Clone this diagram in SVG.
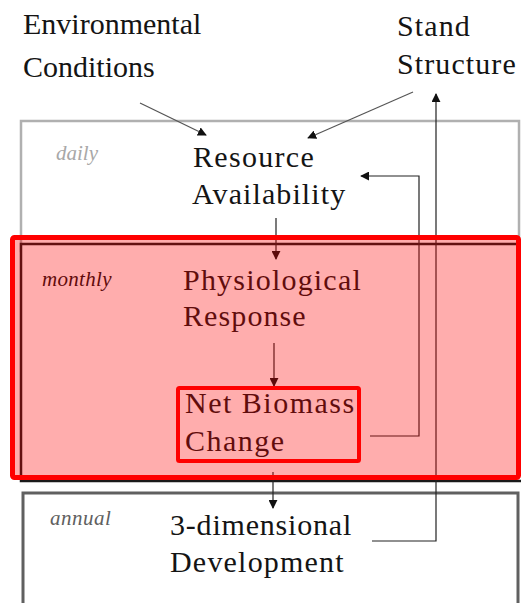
<svg xmlns="http://www.w3.org/2000/svg" width="521" height="603" viewBox="0 0 521 603">
  <defs>
    <marker id="tip" viewBox="0 0 10 10" refX="9" refY="5" markerWidth="9" markerHeight="9" markerUnits="userSpaceOnUse" orient="auto">
      <path d="M0,0 L10,5 L0,10 z" fill="#111"/>
    </marker>
  </defs>

  <rect width="521" height="603" fill="#ffffff"/>

  <!-- time-scale bands -->
  <g id="band-daily">
    <rect x="21" y="121" width="498" height="130" fill="#ffffff" stroke="#b0b0b0" stroke-width="2.5"/>
    <text x="56" y="160" font-family="Liberation Serif" font-size="21" font-style="italic" fill="#a8a8a8">daily</text>
  </g>
  <g id="band-annual">
    <rect x="23" y="493" width="495" height="115" fill="#ffffff" stroke="#606060" stroke-width="3"/>
    <text x="50" y="525" font-family="Liberation Serif" font-size="21" font-style="italic" fill="#606060" letter-spacing="0.5">annual</text>
  </g>
  <g id="band-monthly">
    <rect x="21" y="244" width="510" height="237" fill="#ffffff" stroke="#1a1a1a" stroke-width="2.5"/>
    <text x="42" y="286" font-family="Liberation Serif" font-size="21" font-style="italic" fill="#111" letter-spacing="0.3">monthly</text>
  </g>

  <!-- nodes -->
  <g id="environmental-conditions" fill="#141414">
    <text x="23" y="34" font-family="Liberation Serif" font-size="30">Environmental</text>
    <text x="23" y="77" font-family="Liberation Serif" font-size="30">Conditions</text>
  </g>
  <g id="stand-structure" fill="#141414">
    <text x="397" y="36" font-family="Liberation Serif" font-size="30" letter-spacing="1.1">Stand</text>
    <text x="397" y="74" font-family="Liberation Serif" font-size="30" letter-spacing="1.1">Structure</text>
  </g>
  <g id="resource-availability" fill="#141414">
    <text x="193" y="167" font-family="Liberation Serif" font-size="30" letter-spacing="1.3">Resource</text>
    <text x="192" y="204" font-family="Liberation Serif" font-size="30" letter-spacing="1.1">Availability</text>
  </g>
  <g id="physiological-response" fill="#141414">
    <text x="183" y="290" font-family="Liberation Serif" font-size="30" letter-spacing="1.2">Physiological</text>
    <text x="183" y="326" font-family="Liberation Serif" font-size="30" letter-spacing="1.1">Response</text>
  </g>
  <g id="net-biomass-change" fill="#141414">
    <text x="185" y="413" font-family="Liberation Serif" font-size="30" letter-spacing="1.5">Net Biomass</text>
    <text x="185" y="451" font-family="Liberation Serif" font-size="30" letter-spacing="1.5">Change</text>
  </g>
  <g id="three-dimensional-development" fill="#141414">
    <text x="170" y="535" font-family="Liberation Serif" font-size="30" letter-spacing="0.8">3-dimensional</text>
    <text x="170" y="572" font-family="Liberation Serif" font-size="30" letter-spacing="1.2">Development</text>
  </g>

  <!-- connectors -->
  <g id="connectors" fill="none" stroke="#222" stroke-width="1.2">
    <line x1="140" y1="103" x2="206" y2="135" stroke="#555" marker-end="url(#tip)"/>
    <line x1="413" y1="92" x2="308" y2="138" stroke="#555" marker-end="url(#tip)"/>
    <line x1="276" y1="218" x2="276" y2="259" marker-end="url(#tip)"/>
    <line x1="274" y1="343" x2="274" y2="386" marker-end="url(#tip)"/>
    <line x1="273" y1="472" x2="273" y2="508" marker-end="url(#tip)"/>
    <polyline points="370,436 419,436 419,176 361,176" marker-end="url(#tip)"/>
    <polyline points="372,541 436,541 436,94" marker-end="url(#tip)"/>
  </g>

  <!-- highlight of the monthly step -->
  <g id="highlight">
    <rect x="12.5" y="237.5" width="506" height="240" rx="2" fill="#ff0000" fill-opacity="0.32" stroke="#ff0000" stroke-width="5"/>
    <rect x="178" y="388" width="181" height="73" rx="1.5" fill="none" stroke="#ff0000" stroke-width="4"/>
  </g>
</svg>
